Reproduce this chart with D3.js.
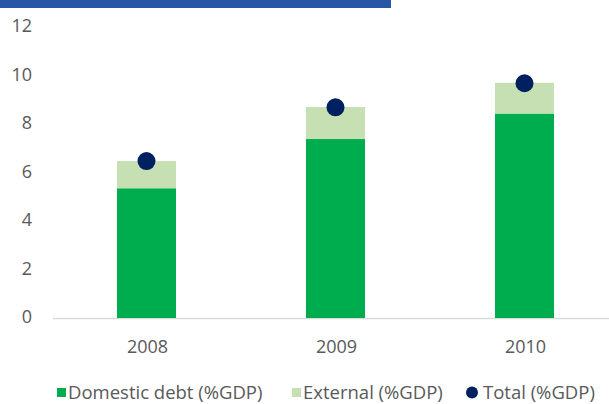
<!DOCTYPE html>
<html>
<head>
<meta charset="utf-8">
<script src="https://cdn.jsdelivr.net/npm/d3@7"></script>
<style>
  body { margin: 0; background: #fff; }
  svg text { font-family: "Open Sans", "Noto Sans", sans-serif; fill: #595959; }
</style>
</head>
<body>
<div id="chart"></div>
<script>
// data
var years = ['2008', '2009', '2010']
var domestic = [5.35, 7.38, 8.43]
var external = [1.12, 1.32, 1.27]
var total = [6.47, 8.69, 9.68]
var yTicks = [0, 2, 4, 6, 8, 10, 12]
var legendLabels = ['Domestic debt (%GDP)', 'External (%GDP)', 'Total (%GDP)']

var width = 609, height = 404
var svg = d3.select('#chart').append('svg').attr('width', width).attr('height', height)

// top banner (cut-off title strip)
svg.append('rect').attr('x', 0).attr('y', 0).attr('width', 391).attr('height', 8).attr('fill', '#2757a6')

var x = d3.scalePoint().domain(years).range([52, 619]).padding(0.5)
var y = d3.scaleLinear().domain([0, 12]).range([318, 27])
var barW = 59

// y labels
svg.selectAll('.ylab').data(yTicks).enter().append('text')
    .attr('class', 'ylab')
    .attr('x', 32)
    .attr('y', function (d) { return y(d) - 1 })
    .attr('dy', '0.35em')
    .attr('text-anchor', 'end')
    .style('font-size', '18px')
    .text(function (d) { return d })

// baseline
svg.append('line').attr('x1', 53).attr('x2', 609).attr('y1', y(0) + 0.5).attr('y2', y(0) + 0.5)
    .attr('stroke', '#d9d9d9').attr('stroke-width', 1.5)

// stacked bars
svg.selectAll('.dom').data(years).enter().append('rect')
    .attr('x', function (d) { return x(d) - barW / 2 })
    .attr('y', function (d, i) { return y(domestic[i]) })
    .attr('width', barW)
    .attr('height', function (d, i) { return y(0) - y(domestic[i]) })
    .attr('fill', '#00ad4e')
svg.selectAll('.ext').data(years).enter().append('rect')
    .attr('x', function (d) { return x(d) - barW / 2 })
    .attr('y', function (d, i) { return y(domestic[i] + external[i]) })
    .attr('width', barW)
    .attr('height', function (d, i) { return y(domestic[i]) - y(domestic[i] + external[i]) })
    .attr('fill', '#c6e0b4')

// total dots
svg.selectAll('.tot').data(years).enter().append('circle')
    .attr('cx', function (d) { return x(d) })
    .attr('cy', function (d, i) { return y(total[i]) })
    .attr('r', 9)
    .attr('fill', '#002060')

// x labels
svg.selectAll('.xlab').data(years).enter().append('text')
    .attr('x', function (d) { return x(d) + 1 })
    .attr('y', 347)
    .attr('dy', '0.35em')
    .attr('text-anchor', 'middle')
    .style('font-size', '18px')
    .text(function (d) { return d })

// legend
var lg = svg.append('g').attr('transform', 'translate(0,393)')
var lx = [57, 292, 466]
lg.append('rect').attr('x', lx[0]).attr('y', -5).attr('width', 9).attr('height', 9).attr('fill', '#00ad4e')
lg.append('rect').attr('x', lx[1]).attr('y', -5).attr('width', 9).attr('height', 9).attr('fill', '#c6e0b4')
lg.append('circle').attr('cx', lx[2] + 6).attr('cy', -0.5).attr('r', 6).attr('fill', '#002060')
lg.selectAll('text').data(legendLabels).enter().append('text')
    .attr('x', function (d, i) { return lx[i] + (i == 2 ? 17 : 11) })
    .attr('y', 0)
    .attr('dy', '0.35em')
    .style('font-size', '18.5px')
    .text(function (d) { return d })
</script>
</body>
</html>
